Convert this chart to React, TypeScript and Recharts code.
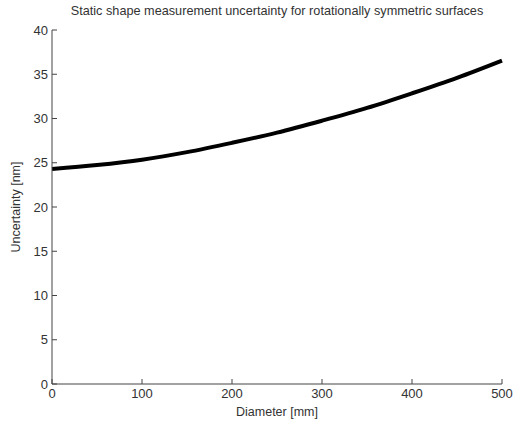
import { LineChart, Line, XAxis, YAxis, Label } from 'recharts';

const diameters = [0, 50, 100, 150, 200, 250, 300, 350, 400, 450, 500];
const uncertainty = [24.3, 24.75, 25.35, 26.2, 27.25, 28.4, 29.75, 31.2, 32.85, 34.6, 36.55];
const xTicks = [0, 100, 200, 300, 400, 500];
const yTicks = [0, 5, 10, 15, 20, 25, 30, 35, 40];

const data = diameters.map((d, i) => ({ d, u: uncertainty[i] }));

const font = '"Liberation Sans", Arial, sans-serif';
const axisColor = '#444';
const tickStyle = { fill: '#333', fontSize: 13, fontFamily: font };

export default function App() {
  return (
    <div style={{ position: 'absolute', left: 0, top: 0, width: 515, height: 425, background: '#fff' }}>
      <div
        style={{
          position: 'absolute',
          top: 4,
          left: 52,
          width: 450,
          textAlign: 'center',
          fontFamily: font,
          fontSize: 12.7,
          color: '#333',
          whiteSpace: 'nowrap',
        }}
      >
        Static shape measurement uncertainty for rotationally symmetric surfaces
      </div>
      <LineChart width={515} height={425} data={data} margin={{ top: 30, right: 13, bottom: 0, left: 0 }}>
        <XAxis
          xAxisId="b"
          dataKey="d"
          type="number"
          domain={[0, 500]}
          ticks={xTicks}
          height={41}
          stroke={axisColor}
          tickSize={-5}
          tickMargin={10}
          tick={tickStyle}
        >
          <Label value="Diameter [mm]" position="insideBottom" offset={9} style={{ fill: '#333', fontSize: 12.5, fontFamily: font }} />
        </XAxis>
        <XAxis
          xAxisId="t"
          orientation="top"
          dataKey="d"
          type="number"
          domain={[0, 500]}
          ticks={xTicks}
          height={0}
          stroke={axisColor}
          tickSize={-5}
          tickFormatter={() => ''}
        />
        <YAxis
          yAxisId="l"
          type="number"
          domain={[0, 40]}
          ticks={yTicks}
          width={52}
          stroke={axisColor}
          tickSize={-5}
          tickMargin={9}
          tick={tickStyle}
        >
          <Label value="Uncertainty [nm]" angle={-90} position="insideLeft" offset={16} style={{ fill: '#333', fontSize: 12.5, fontFamily: font, textAnchor: 'middle' }} />
        </YAxis>
        <YAxis
          yAxisId="r"
          orientation="right"
          type="number"
          domain={[0, 40]}
          ticks={yTicks}
          width={0}
          stroke={axisColor}
          tickSize={-5}
          tickFormatter={() => ''}
        />
        <Line
          xAxisId="b"
          yAxisId="l"
          type="monotone"
          dataKey="u"
          stroke="#000"
          strokeWidth={4}
          dot={false}
          isAnimationActive={false}
        />
      </LineChart>
    </div>
  );
}
